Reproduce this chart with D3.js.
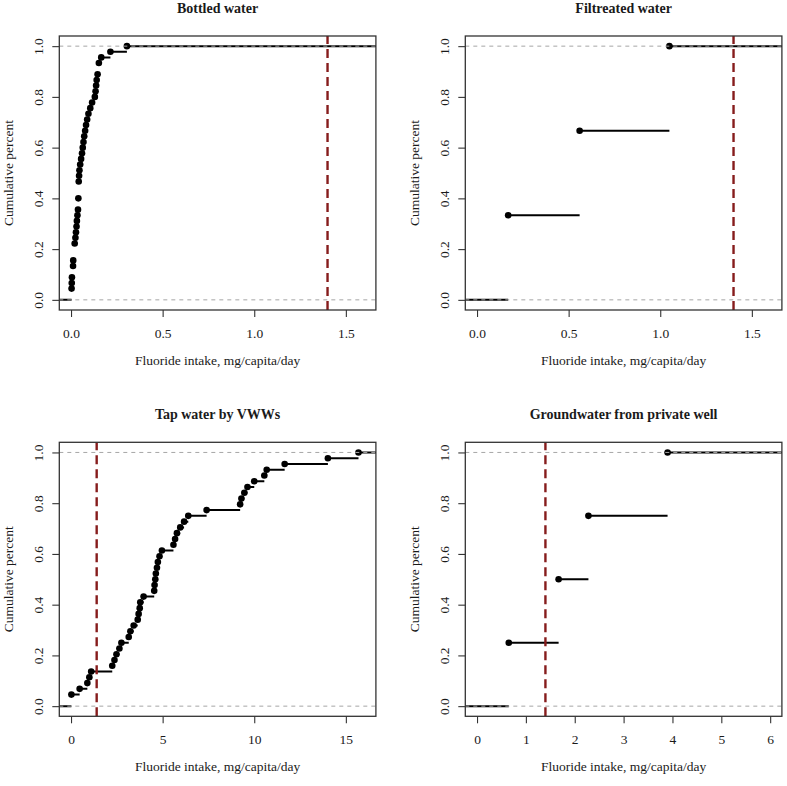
<!DOCTYPE html>
<html><head><meta charset="utf-8">
<script src="https://cdn.jsdelivr.net/npm/d3@7/dist/d3.min.js"></script>
<style>
body{margin:0;background:#fff}
svg{display:block}
text{font-family:"Liberation Serif","Times New Roman",serif;fill:#1a1a1a}
</style>
</head><body>
<svg id="chart" width="787" height="786"></svg>
<script>
// ---- data (fluoride intake samples, mg/capita/day) ----
const panelTitles = ["Bottled water", "Filtreated water", "Tap water by VWWs", "Groundwater from private well"];
const bottledWater = [0.003, 0.003, 0.004, 0.005, 0.011, 0.011, 0.012, 0.020, 0.020, 0.020,
  0.024, 0.027, 0.030, 0.032, 0.035, 0.038, 0.040, 0.040, 0.042, 0.042, 0.042, 0.044, 0.046,
  0.050, 0.055, 0.060, 0.064, 0.068, 0.072, 0.077, 0.082, 0.088, 0.095, 0.105, 0.115, 0.130,
  0.134, 0.137, 0.140, 0.145, 0.152, 0.152, 0.165, 0.215, 0.305];
const filtreatedWater = [0.17, 0.56, 1.05];
const tapWater = [0.02, 0.02, 0.47, 0.89, 1.0, 1.1, 2.25, 2.37, 2.48, 2.64, 2.75, 3.15, 3.24,
  3.42, 3.64, 3.69, 3.75, 3.78, 3.96, 4.54, 4.56, 4.60, 4.63, 4.69, 4.74, 4.83, 4.96, 5.59,
  5.68, 5.78, 5.96, 6.17, 6.40, 7.40, 9.23, 9.30, 9.46, 9.63, 10.0, 10.55, 10.68, 11.66, 14.02, 15.69];
const groundWater = [0.65, 1.67, 2.28, 3.90];
const xLimits = [[0, 1.6], [0, 1.6], [0, 16], [0, 6]];
const xTickValues = [[0, 0.5, 1, 1.5], [0, 0.5, 1, 1.5], [0, 5, 10, 15], [0, 1, 2, 3, 4, 5, 6]];
const xTickFormats = [".1f", ".1f", "d", "d"];
const yTickValues = [0, 0.2, 0.4, 0.6, 0.8, 1.0];
const referenceIntake = 1.4;
const xTitle = "Fluoride intake, mg/capita/day";
const yTitle = "Cumulative percent";

const samples = [bottledWater, filtreatedWater, tapWater, groundWater];

// ---- layout ----
const colLeft = [59.3, 465.3], rowTop = [36, 442.3];
const W = 316.6, H = 274;
const svg = d3.select("#chart");

function ecdf(vals) {
  const s = vals.slice().sort(d3.ascending);
  const n = s.length;
  const knots = [];
  s.forEach((v, i) => {
    if (i === n - 1 || s[i + 1] !== v) knots.push({x: v, y: (i + 1) / n});
  });
  return knots;
}
function expand(lim) { const d = (lim[1] - lim[0]) * 0.04; return [lim[0] - d, lim[1] + d]; }

samples.forEach((vals, p) => {
  const left = colLeft[p % 2], top = rowTop[Math.floor(p / 2)];
  const g = svg.append("g").attr("transform", `translate(${left},${top})`);
  const x = d3.scaleLinear().domain(expand(xLimits[p])).range([0, W]);
  const y = d3.scaleLinear().domain(expand([0, 1])).range([H, 0]);
  const clipId = "clip" + p;
  g.append("clipPath").attr("id", clipId).append("rect").attr("width", W).attr("height", H);
  const plot = g.append("g").attr("clip-path", `url(#${clipId})`);

  const knots = ecdf(vals);
  const [x0, x1] = x.domain();
  const segs = [{a: x0 - 1, b: knots[0].x, y: 0}];
  knots.forEach((k, i) => segs.push({a: k.x, b: i < knots.length - 1 ? knots[i + 1].x : x1 + 1, y: k.y}));
  plot.selectAll("line.step").data(segs).join("line").attr("class", "step")
    .attr("x1", d => x(d.a)).attr("x2", d => x(d.b))
    .attr("y1", d => y(d.y)).attr("y2", d => y(d.y))
    .attr("stroke", "#000").attr("stroke-width", 2);
  plot.selectAll("circle").data(knots).join("circle")
    .attr("cx", d => x(d.x)).attr("cy", d => y(d.y)).attr("r", 3.3).attr("fill", "#000");

  // gray dashed reference lines at 0 and 1
  plot.selectAll("line.h").data([0, 1]).join("line").attr("class", "h")
    .attr("x1", 0).attr("x2", W).attr("y1", d => y(d)).attr("y2", d => y(d))
    .attr("stroke", "#a6a6a6").attr("stroke-width", 1).attr("stroke-dasharray", "4,4");
  // red guideline
  plot.append("line")
    .attr("x1", x(referenceIntake)).attr("x2", x(referenceIntake)).attr("y1", H).attr("y2", 0)
    .attr("stroke", "#861c1c").attr("stroke-width", 2.4).attr("stroke-dasharray", "9,5");

  // axes
  const xa = g.append("g").attr("transform", `translate(0,${H})`)
    .call(d3.axisBottom(x).tickValues(xTickValues[p]).tickFormat(d3.format(xTickFormats[p])).tickSize(7));
  xa.select(".domain").remove();
  xa.selectAll("line").attr("stroke", "#333").attr("stroke-width", 1.1);
  xa.selectAll("text").attr("y", 27.5).attr("dy", null).attr("font-size", 13.5).attr("fill", "#1a1a1a")
    .style("font-family", '"Liberation Serif", serif');

  const ya = g.append("g")
    .call(d3.axisLeft(y).tickValues(yTickValues).tickFormat(d3.format(".1f")).tickSize(7));
  ya.select(".domain").remove();
  ya.selectAll("line").attr("stroke", "#333").attr("stroke-width", 1.1);
  ya.selectAll("text").attr("x", null).attr("dy", null)
    .attr("transform", "translate(-16.8,0) rotate(-90)").attr("text-anchor", "middle")
    .attr("font-size", 13.5).attr("fill", "#1a1a1a").style("font-family", '"Liberation Serif", serif');

  // frame
  g.append("rect").attr("width", W).attr("height", H).attr("fill", "none")
    .attr("stroke", "#333").attr("stroke-width", 1.3);

  // titles
  g.append("text").attr("x", W / 2).attr("y", -23.3).attr("text-anchor", "middle")
    .attr("font-size", 14).attr("font-weight", "bold").text(panelTitles[p]);
  g.append("text").attr("x", W / 2).attr("y", H + 54.5).attr("text-anchor", "middle")
    .attr("font-size", 13.5).text(xTitle);
  g.append("text").attr("transform", `translate(-46.8,${H / 2}) rotate(-90)`).attr("text-anchor", "middle")
    .attr("font-size", 13.5).text(yTitle);
});
</script>
</body></html>
